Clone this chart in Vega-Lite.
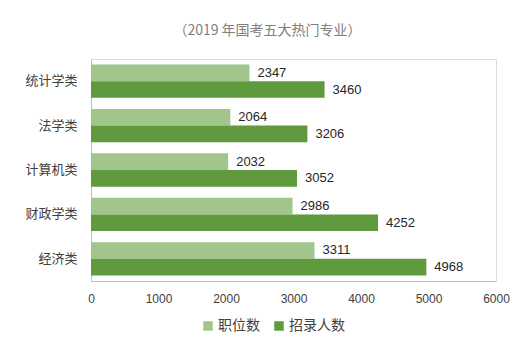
{
  "$schema": "https://vega.github.io/schema/vega-lite/v6.json",
  "autosize": "none",
  "width": 405,
  "height": 222,
  "padding": {"left": 91, "top": 59, "right": 23, "bottom": 70},
  "background": "white",
  "title": {
    "text": "（2019 年国考五大热门专业）",
    "fontSize": 14,
    "fontWeight": "normal",
    "color": "#808080",
    "font": "Noto Sans CJK SC",
    "anchor": "middle",
    "dx": -26,
    "offset": 21
  },
  "data": {
    "values": [
      {"major": "统计学类", "series": "职位数", "value": 2347},
      {"major": "统计学类", "series": "招录人数", "value": 3460},
      {"major": "法学类", "series": "职位数", "value": 2064},
      {"major": "法学类", "series": "招录人数", "value": 3206},
      {"major": "计算机类", "series": "职位数", "value": 2032},
      {"major": "计算机类", "series": "招录人数", "value": 3052},
      {"major": "财政学类", "series": "职位数", "value": 2986},
      {"major": "财政学类", "series": "招录人数", "value": 4252},
      {"major": "经济类", "series": "职位数", "value": 3311},
      {"major": "经济类", "series": "招录人数", "value": 4968}
    ]
  },
  "encoding": {
    "y": {
      "field": "major",
      "type": "nominal",
      "sort": ["统计学类", "法学类", "计算机类", "财政学类", "经济类"],
      "scale": {"paddingInner": 0.25, "paddingOuter": 0.125},
      "axis": {
        "title": null,
        "ticks": false,
        "domainColor": "#bfbfbf",
        "labelFont": "Noto Sans CJK SC",
        "labelFontSize": 13,
        "labelColor": "#404040",
        "labelPadding": 14
      }
    },
    "yOffset": {
      "field": "series",
      "type": "nominal",
      "sort": ["职位数", "招录人数"],
      "scale": {"paddingInner": 0, "paddingOuter": 0}
    },
    "x": {
      "field": "value",
      "type": "quantitative",
      "scale": {"domain": [0, 6000], "nice": false},
      "axis": {
        "title": null,
        "values": [0, 1000, 2000, 3000, 4000, 5000, 6000],
        "format": "d",
        "grid": false,
        "ticks": false,
        "domainColor": "#bfbfbf",
        "labelFont": "Liberation Sans",
        "labelFontSize": 12,
        "labelColor": "#404040",
        "labelPadding": 12,
        "labelFlush": false
      }
    }
  },
  "layer": [
    {
      "mark": {"type": "bar"},
      "encoding": {
        "color": {
          "field": "series",
          "type": "nominal",
          "sort": ["职位数", "招录人数"],
          "scale": {"domain": ["职位数", "招录人数"], "range": ["#a2c58c", "#5f9a3f"]},
          "legend": {
            "title": null,
            "orient": "none",
            "direction": "horizontal",
            "legendX": 110,
            "legendY": 260,
            "symbolType": "square",
            "symbolSize": 90,
            "symbolStrokeWidth": 0,
            "labelFont": "Noto Sans CJK SC",
            "labelFontSize": 14,
            "labelColor": "#404040",
            "labelOffset": 3,
            "columnPadding": 12
          }
        }
      }
    },
    {
      "mark": {"type": "text", "align": "left", "baseline": "middle", "dx": 8, "font": "Liberation Sans", "fontSize": 13, "color": "#262626"},
      "encoding": {
        "text": {"field": "value", "type": "quantitative", "format": "d"}
      }
    }
  ]
}
